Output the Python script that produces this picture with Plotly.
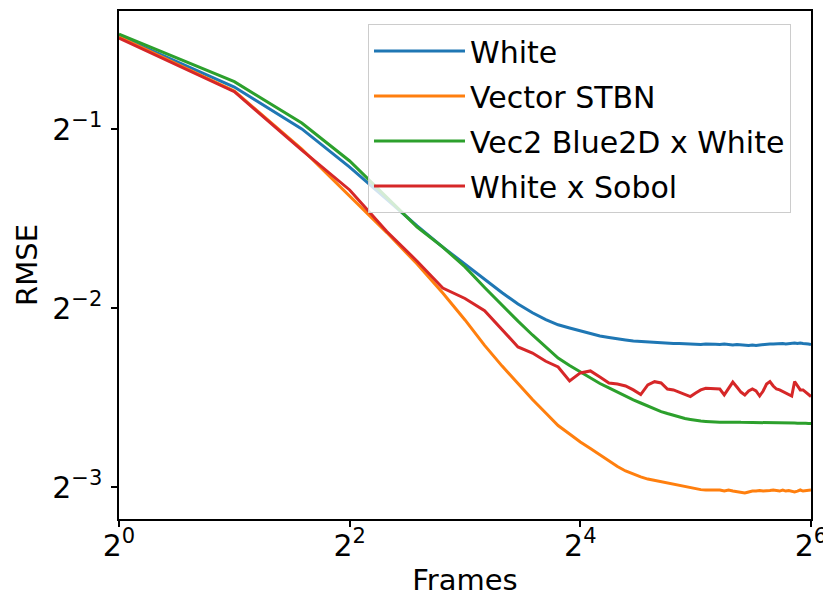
import plotly.graph_objects as go

frames = list(range(1, 65))

# log2(RMSE), one value per frame (1..64)
white_log2 = [-0.479, -0.764, -0.998, -1.211, -1.392, -1.540, -1.658, -1.753, -1.842, -1.913,
              -1.976, -2.025, -2.063, -2.092, -2.110, -2.127, -2.144, -2.155, -2.163, -2.172,
              -2.177, -2.183, -2.186, -2.188, -2.191, -2.194, -2.194, -2.197, -2.197, -2.199,
              -2.199, -2.199, -2.202, -2.199, -2.202, -2.201, -2.202, -2.199, -2.202, -2.205,
              -2.202, -2.205, -2.208, -2.208, -2.205, -2.208, -2.205, -2.202, -2.202, -2.199,
              -2.199, -2.197, -2.199, -2.197, -2.199, -2.197, -2.197, -2.194, -2.197, -2.194,
              -2.197, -2.197, -2.199, -2.202]

stbn_log2 = [-0.484, -0.786, -1.110, -1.373, -1.577, -1.753, -1.915, -2.065, -2.207, -2.323,
             -2.421, -2.510, -2.585, -2.655, -2.702, -2.747, -2.783, -2.820, -2.853, -2.884,
             -2.909, -2.928, -2.942, -2.954, -2.962, -2.970, -2.976, -2.984, -2.990, -2.996,
             -3.004, -3.010, -3.013, -3.015, -3.015, -3.018, -3.015, -3.021, -3.015, -3.021,
             -3.024, -3.026, -3.032, -3.026, -3.021, -3.021, -3.018, -3.021, -3.021, -3.018,
             -3.015, -3.018, -3.021, -3.015, -3.021, -3.018, -3.021, -3.026, -3.021, -3.015,
             -3.021, -3.018, -3.015, -3.015]

vec2_log2 = [-0.468, -0.734, -0.965, -1.177, -1.380, -1.546, -1.658, -1.769, -1.884, -1.984,
             -2.072, -2.149, -2.216, -2.278, -2.320, -2.356, -2.389, -2.420, -2.445, -2.470,
             -2.493, -2.512, -2.529, -2.546, -2.563, -2.577, -2.588, -2.599, -2.607, -2.616,
             -2.621, -2.627, -2.630, -2.632, -2.635, -2.635, -2.636, -2.635, -2.636, -2.637,
             -2.636, -2.637, -2.637, -2.638, -2.637, -2.638, -2.638, -2.639, -2.638, -2.639,
             -2.640, -2.639, -2.640, -2.640, -2.641, -2.640, -2.641, -2.641, -2.642, -2.641,
             -2.642, -2.642, -2.643, -2.643]

sobol_log2 = [-0.490, -0.790, -1.116, -1.339, -1.571, -1.737, -1.887, -1.945, -2.013, -2.121,
              -2.216, -2.250, -2.296, -2.328, -2.406, -2.361, -2.350, -2.384, -2.417, -2.423,
              -2.434, -2.456, -2.482, -2.428, -2.410, -2.417, -2.451, -2.456, -2.468, -2.479,
              -2.493, -2.473, -2.456, -2.447, -2.447, -2.447, -2.451, -2.484, -2.451, -2.412,
              -2.440, -2.468, -2.484, -2.462, -2.451, -2.462, -2.490, -2.462, -2.423, -2.409,
              -2.434, -2.451, -2.456, -2.465, -2.473, -2.484, -2.490, -2.409, -2.434, -2.456,
              -2.456, -2.468, -2.484, -2.493]

series_names = ["White", "Vector STBN", "Vec2 Blue2D x White", "White x Sobol"]
series_log2 = [white_log2, stbn_log2, vec2_log2, sobol_log2]
series_colors = ["#1f77b4", "#ff7f0e", "#2ca02c", "#d62728"]

x_tick_vals = [1, 4, 16, 64]
x_tick_text = ["2<sup>0</sup>", "2<sup>2</sup>", "2<sup>4</sup>", "2<sup>6</sup>"]
y_tick_vals = [0.5, 0.25, 0.125]
y_tick_text = ["2<sup>\u22121</sup>", "2<sup>\u22122</sup>", "2<sup>\u22123</sup>"]

fig = go.Figure()
for i, (name, vals, col) in enumerate(zip(series_names, series_log2, series_colors)):
    fig.add_trace(go.Scatter(
        x=frames, y=[2 ** v for v in vals], mode="lines", name=name,
        legendgroup=f"g{i}",
        line=dict(color=col, width=3),
    ))

FONT = "DejaVu Sans"
# page body has an 8px margin, so the figure is 8px smaller than the window
fig.update_layout(
    width=823, height=590,
    margin=dict(l=111, r=20, t=3, b=79, autoexpand=False),
    paper_bgcolor="white", plot_bgcolor="white",
    font=dict(family=FONT, size=30, color="black"),
    showlegend=True,
    legend=dict(
        x=0.9711, xanchor="right", y=0.9745, yanchor="top",
        bgcolor="rgba(255,255,255,0.8)", bordercolor="#cccccc", borderwidth=1,
        font=dict(family=FONT, size=30, color="black"),
        itemwidth=91, tracegroupgap=3, traceorder="grouped",
    ),
    xaxis=dict(
        type="log", range=[0, 1.80618], tickvals=x_tick_vals, ticktext=x_tick_text,
        showgrid=False, zeroline=False, showline=True, linecolor="black", linewidth=1.5,
        mirror=True, ticks="outside", ticklen=6, tickwidth=1.5, tickcolor="black",
        tickfont=dict(family=FONT, size=30), automargin=False, ticklabelstandoff=-7,
        title=dict(text="Frames", font=dict(family=FONT, size=29), standoff=8),
    ),
    yaxis=dict(
        type="log", range=[-0.9564, -0.1021], tickvals=y_tick_vals, ticktext=y_tick_text,
        showgrid=False, zeroline=False, showline=True, linecolor="black", linewidth=1.5,
        mirror=True, ticks="outside", ticklen=6, tickwidth=1.5, tickcolor="black",
        tickfont=dict(family=FONT, size=30), automargin=False, ticklabelstandoff=3,
        title=dict(text="RMSE", font=dict(family=FONT, size=29), standoff=6),
    ),
)

fig.write_html("out.html")
